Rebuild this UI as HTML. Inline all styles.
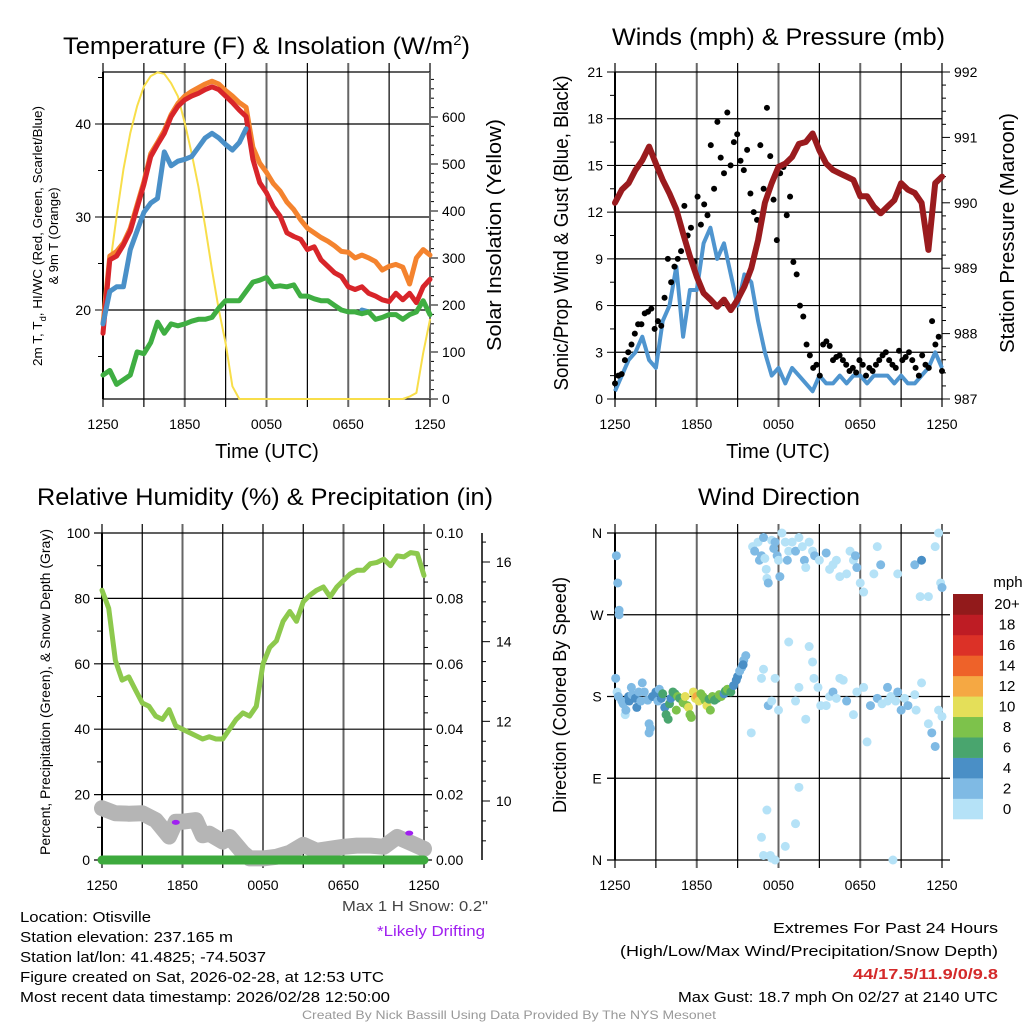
<!DOCTYPE html>
<html><head><meta charset="utf-8"><style>
html,body{margin:0;padding:0;background:#fff;}
svg{display:block;font-family:"Liberation Sans",sans-serif;}
</style></head><body>
<svg id="fig" width="1024" height="1024" viewBox="0 0 1024 1024" xmlns="http://www.w3.org/2000/svg">
<g font-size="24" fill="#000">
<text x="63" y="54" textLength="407" lengthAdjust="spacingAndGlyphs">Temperature (F) &amp; Insolation (W/m<tspan dy="-9" font-size="14">2</tspan><tspan dy="9">)</tspan></text>
<text x="612" y="45" textLength="333" lengthAdjust="spacingAndGlyphs">Winds (mph) &amp; Pressure (mb)</text>
<text x="37" y="505" textLength="456" lengthAdjust="spacingAndGlyphs">Relative Humidity (%) &amp; Precipitation (in)</text>
<text x="698" y="505" textLength="162" lengthAdjust="spacingAndGlyphs">Wind Direction</text>
</g>
<g id="layer"></g>
<g font-size="15" fill="#000">
<text x="20" y="922" textLength="131" lengthAdjust="spacingAndGlyphs">Location: Otisville</text>
<text x="20" y="942" textLength="213" lengthAdjust="spacingAndGlyphs">Station elevation: 237.165 m</text>
<text x="20" y="962" textLength="246" lengthAdjust="spacingAndGlyphs">Station lat/lon: 41.4825; -74.5037</text>
<text x="20" y="982" textLength="364" lengthAdjust="spacingAndGlyphs">Figure created on Sat, 2026-02-28, at 12:53 UTC</text>
<text x="20" y="1002" textLength="370" lengthAdjust="spacingAndGlyphs">Most recent data timestamp: 2026/02/28 12:50:00</text>
<text x="342" y="911" textLength="146" lengthAdjust="spacingAndGlyphs" fill="#444">Max 1 H Snow: 0.2"</text>
<text x="377" y="936" textLength="108" lengthAdjust="spacingAndGlyphs" fill="#a020f0">*Likely Drifting</text>
<text x="773" y="933" textLength="225" lengthAdjust="spacingAndGlyphs">Extremes For Past 24 Hours</text>
<text x="620" y="956" textLength="378" lengthAdjust="spacingAndGlyphs">(High/Low/Max Wind/Precipitation/Snow Depth)</text>
<text x="853" y="979" textLength="145" lengthAdjust="spacingAndGlyphs" fill="#d42a2a" font-weight="bold">44/17.5/11.9/0/9.8</text>
<text x="678" y="1002" textLength="320" lengthAdjust="spacingAndGlyphs">Max Gust: 18.7 mph On 02/27 at 2140 UTC</text>
<text x="302" y="1019" textLength="414" lengthAdjust="spacingAndGlyphs" font-size="12" fill="#999">Created By Nick Bassill Using Data Provided By The NYS Mesonet</text>
</g>
</svg>
<script>
// ---------- data (half-hour samples, t = 0..48 from 1250 UTC) ----------
const timeTicks = ["1250","1850","0050","0650","1250"];
const tempRed = [17.5,25.4,25.8,27.0,28.5,31.0,33.5,36.5,37.8,39.0,40.8,41.9,42.6,43.0,43.3,43.7,44.0,43.7,43.0,42.3,41.5,40.8,36.2,33.7,32.6,31.1,30.1,28.3,27.9,27.6,26.5,26.8,25.4,24.7,24.0,23.6,22.5,22.2,22.5,21.8,21.5,21.1,20.9,21.8,21.1,21.8,20.8,22.5,23.3];
const tempOrange = [18.5,25.8,26.3,27.2,28.8,31.3,33.8,36.8,38.0,39.3,41,42.2,43,43.5,43.9,44.3,44.6,44.3,43.6,43,42.3,41.8,37.5,35.8,34.8,33.6,32.8,31.6,30.8,29.7,28.8,28.3,27.8,27.4,26.9,26.3,26.2,25.6,25.9,25.6,25.2,24.3,24.7,24.9,24.6,22.8,25.6,26.5,25.9];
const tempBlue = [18.5,22,22.5,22.5,26.5,28.5,30.5,31.5,32.0,37.0,35.5,36,36.2,36.5,37.5,38.5,39,38.5,37.8,37.2,38,39.5,null,null,30,null,null,null,null,26.2,null,null,null,null,null,null,null,null,20,19.8,null,null,null,18,null,null,16,null,20];
const dewGreen = [13,13.5,12,12.5,13,15.5,15.3,16.5,18.7,17.5,18.5,18.3,18.5,18.8,19,19,19.2,20.2,21,21,21,22,23,23.2,23.5,22.5,22.6,22.5,22.7,21.5,21.5,21.2,21,21,20.5,20,19.8,19.8,19.6,19.8,19,19.2,19.5,19.5,19,19.5,19.8,21,19.5];
const solar = [169,282,389,488,566,623,665,687,695,692,672,644,587,523,452,367,275,190,119,27,0,0,0,0,0,0,0,0,0,0,0,0,0,0,0,0,0,0,0,0,0,0,0,0,0,5,13,98,169];
const pressure = [990.0,990.2,990.3,990.5,990.65,990.86,990.6,990.35,990.14,989.9,989.53,989.18,988.87,988.62,988.52,988.41,988.52,988.36,988.52,988.72,989.0,989.43,990.0,990.3,990.55,990.6,990.7,990.9,990.93,991.06,990.8,990.6,990.5,990.45,990.4,990.35,990.1,990.1,989.94,989.84,989.94,990.04,990.3,990.2,990.15,990.0,989.28,990.3,990.4];
const windSpd = [0.5,1.5,2.5,3,4,2.5,2,5,6,8.5,4,7,7,10,11,9,10,8,6,8,7.5,5,3,1.5,2,1,2,1.5,1,0.5,1.5,1,1,1.5,1,1.5,1.5,1,1.5,1.5,1.5,1,1.5,1,1,1.5,2,3,2];
const gusts = [1,1.5,1.6,2.5,3,3.5,4.2,4.8,4.8,5.5,5.6,5.8,4.5,5,4.7,6.5,9,7.5,8.5,9,9.5,12.4,10.5,11,8.8,13,11.2,12.5,11.8,16.3,13.5,17.8,15.5,14.5,18.4,15,16.5,17,15.3,14.7,16,13.2,12,11.5,16.3,13.5,18.7,15.6,12.8,10.2,14.5,14.9,11.8,13,8.8,8,6,5.3,3.5,2.8,2,2.2,1.5,3.5,3.7,3.4,2.5,2.7,2.8,2.5,2.2,1.8,2,1.7,2.5,2.2,1.5,2,1.8,2.2,2.5,2.8,3,2.5,2.2,2,3.1,2.5,2.7,3,2.5,2,1.5,2.8,2.2,2,5,3.5,4,1.8];
const rh = [82.5,77,61,55,56,52,48,47,44,43,46,41,40,39,38,37,37.7,37,37,40,43,45,44,47,60,65,67,73,76,73,79,81,82.5,83.5,80.5,83.5,85.5,87.5,88.6,88.6,90.6,91,92,90,93,92.7,94,93.7,87];
const snowT = [0,2,4,6,8,10,11,12,14,15,16,18,19,20,21,22,24,26,28,30,32,34,36,38,40,42,44,46,48];
const snowDepth = [9.82,9.69,9.68,9.69,9.52,9.11,9.48,9.48,9.52,9.14,9.18,8.98,9.1,8.9,8.7,8.56,8.56,8.6,8.7,8.9,8.75,8.8,8.85,8.88,8.88,8.85,9.1,8.95,8.8];
const driftT = [11,45.8];
const driftV = [11.5,8.2];
const precip = [0,0,0,0,0,0,0,0,0,0,0,0,0,0,0,0,0,0,0,0,0,0,0,0,0,0,0,0,0,0,0,0,0,0,0,0,0,0,0,0,0,0,0,0,0,0,0,0,0];
const wdT = [0.1,0.2,0.4,0.6,0.6,0.3,0.5,1,1.5,1.6,1.2,2,2.1,2.5,2.4,3,3.2,3.5,3.8,4,4.3,4.8,5,5.2,5.0,5.5,6,6.3,6.5,6.8,7,7.3,7.5,7.8,8,8.2,8.5,8.8,9,9.2,9.5,10,10.3,10.6,10.8,11,11.2,11.5,11.8,12,12.3,12.6,12.9,13.2,13.5,13.8,14,14.3,14.6,15,15.3,15.6,16,16.2,16.5,17,17.4,17.8,18,18.3,18.6,18.9,19.2,18.8,20.2,20.5,21,21.2,21.5,21.8,22,22.3,22.5,22.2,23,23.3,23.5,23.8,24,24.2,24.5,25,25.3,25.5,26,26.5,27,27.5,27.8,28,28.5,29,29.3,30,31,31.5,32,32.5,33,34,34.5,35,35.3,35.5,36,36.5,38,38.5,39,41.5,44,45,47.5,47.8,48,46,47,44.8,20,21.5,21.8,22.5,23,23.5,24,25.5,26.5,27,28.5,29,29.2,29.8,30.2,31,31.5,32,32.5,33,33.5,34,35,35.5,36.5,37,37.5,38.5,39.2,40,40.5,41.2,41.5,42,42.5,43,44,44.2,45,46,46.5,47,47.5,48,40,28,27,26.5,22.3,21.5,22.8,23,23.5,25,21.8,40.8];
const wdDir = [200,335,305,275,270,185,180,175,160,165,172,180,175,182,190,178,168,185,175,195,185,176,150,145,140,180,185,175,188,178,183,168,160,155,172,178,185,183,165,180,178,173,180,170,168,160,157,185,178,180,175,183,180,176,170,177,165,180,176,178,182,180,183,186,188,185,192,198,202,208,212,220,225,215,345,340,350,330,335,355,332,310,305,320,352,343,350,335,330,312,360,350,330,340,350,340,355,345,330,322,350,340,335,330,338,320,325,330,312,315,340,330,335,322,305,295,315,345,325,315,325,330,360,305,300,290,345,290,140,200,210,170,175,200,165,240,175,190,235,218,200,190,170,170,180,185,178,200,198,175,160,185,190,130,170,178,172,190,180,175,185,165,178,170,182,165,195,150,140,125,165,158,175,155,80,40,55,25,5,2,0,15,5,0];
const wdSpd = [2,2,2,3,2,1,2,2,1,2,3,4,4,2,3,4,4,3,2,3,2,2,2,2,2,4,4,2,3,5,6,5,6,7,6,5,6,7,8,8,7,9,10,8,10,9,8,10,10,12,10,9,8,8,10,6,8,8,6,7,9,8,4,6,8,6,4,4,4,3,2,2,2,4,1,2,1,2,2,3,1,1,3,1,1,3,2,2,1,3,1,1,3,1,1,2,1,1,2,1,1,1,2,1,3,1,1,1,1,1,1,1,3,3,1,1,1,1,3,1,2,4,1,1,3,1,1,1,1,1,1,2,1,1,1,1,1,1,1,1,1,1,1,1,1,3,1,1,1,3,1,1,1,1,3,3,1,2,1,1,3,3,1,2,1,1,1,1,2,2,1,1,1,1,1,1,1,1,1,1,1,1,1,1,1,1,1,1];
const cbLabels = ["0","2","4","6","8","10","12","14","16","18","20+"];
const cbColors = ["#b5e2f7","#7fbae4","#4a8fc6","#49a56e","#7dc24b","#e4df59","#f5a843","#ee6229","#dc3127","#be1c24","#921a1b"];

// ---------- helpers ----------
const NS="http://www.w3.org/2000/svg";
const layer=document.getElementById('layer');
function mk(tag,attrs,parent){const e=document.createElementNS(NS,tag);for(const k in attrs)e.setAttribute(k,attrs[k]);(parent||layer).appendChild(e);return e;}
function lin(d0,d1,p0,p1){return v=>p0+(v-d0)*(p1-p0)/(d1-d0);}
function pathFrom(xs,ys,xf,yf){let d="",pen=false;for(let i=0;i<ys.length;i++){if(ys[i]===null){pen=false;continue;}const x=xf(xs[i]).toFixed(1),y=yf(ys[i]).toFixed(1);d+=(pen?"L":"M")+x+" "+y+" ";pen=true;}return d;}
const idx=n=>Array.from({length:n},(_,i)=>i*48/(n-1));

function frame(g,x0,x1,y0,y1){
  for(let i=0;i<=8;i++){const x=x0+i*(x1-x0)/8;const l=mk('line',{x1:x,x2:x,y1:y0-9,y2:y1+8,stroke:(i%2==0)?'#666':'#000','stroke-width':(i%2==0)?2:1.2},g);
    
    }
}
function timeLabels(g,x0,x1,y){for(let i=0;i<5;i++){const t=mk('text',{x:x0+i*(x1-x0)/4,y:y,'font-size':14,'text-anchor':'middle'},g);t.textContent=timeTicks[i];
  
  }}
function hgrid(g,x0,x1,y,ext){const l=mk('line',{x1:x0-ext,x2:x1+ext,y1:y,y2:y,stroke:'#000','stroke-width':1.2},g);
  
  }
function tickTxt(g,x,y,s,anchor,fs){const t=mk('text',{x:x,y:y+5,'font-size':fs||14,'text-anchor':anchor},g);t.textContent=s;
  
  return t;}
function rotTxt(g,x,y,s,fs,ang,len){const a={x:0,y:0,'font-size':fs,'text-anchor':'middle',transform:`translate(${x},${y}) rotate(${ang})`};if(len){a.textLength=len;a.lengthAdjust='spacingAndGlyphs';}const t=mk('text',a,g);t.textContent=s;
  
  return t;}

// ---------- Panel 1: temperature ----------
{
const g=mk('g',{});
const X0=103,X1=430,Y0=72,Y1=399;
const xs=lin(0,48,X0,X1), yT=lin(20,40,310,124), yS=lin(0,600,399,117);
frame(g,X0,X1,Y0,Y1);
[20,30,40].forEach(v=>{hgrid(g,X0,X1,yT(v),0);mk('line',{x1:X0-8,x2:X0,y1:yT(v),y2:yT(v),stroke:'#000'},g);tickTxt(g,X0-12,yT(v),String(v),'end');});
[15,25,35,45].forEach(v=>mk('line',{x1:X0-5,x2:X0,y1:yT(v),y2:yT(v),stroke:'#000'},g));
hgrid(g,X0,X1,Y0,0);hgrid(g,X0,X1,Y1,0);
for(let v=0;v<=690;v+=20){const big=v%100==0;mk('line',{x1:X1,x2:X1+(big?8:4),y1:yS(v),y2:yS(v),stroke:'#000'},g);if(big)tickTxt(g,X1+12,yS(v),String(v),'start');}
mk('line',{x1:X0,x2:X0,y1:Y0,y2:Y1,stroke:'#000','stroke-width':2},g);
mk('line',{x1:X1,x2:X1,y1:Y0,y2:Y1,stroke:'#666','stroke-width':2},g);
const t=idx(49);
const s=[[solar,yS,'#f8de4a',2,'solar-insolation-line'],[tempOrange,yT,'#f4832e',5,'9m-temperature-line'],[tempRed,yT,'#d8252a',5,'2m-temperature-line'],[tempBlue,yT,'#4a90c8',5,'heat-index-windchill-line'],[dewGreen,yT,'#3fae42',5,'dewpoint-line']];
s.forEach(([d,yf,c,w,n])=>{const p=mk('path',{d:pathFrom(t,d,xs,yf),fill:'none',stroke:c,'stroke-width':w,'stroke-linejoin':'round','stroke-linecap':'round'},g);
  
  });
timeLabels(g,X0,X1,429);
const tt=mk('text',{x:267,y:458,'font-size':20,'text-anchor':'middle'},g);tt.textContent='Time (UTC)';


rotTxt(g,42,236,'2m T',13,-90,260).textContent='2m T, T';
const lab=g.lastChild;const sub=mk('tspan',{'font-size':9,dy:4},lab);sub.textContent='d';const rest=mk('tspan',{dy:-4},lab);rest.textContent=', HI/WC (Red, Green, Scarlet/Blue)';
rotTxt(g,58,236,'& 9m T (Orange)',13,-90);
rotTxt(g,501,235,'Solar Insolation (Yellow)',20,-90,232);
}

// ---------- Panel 2: winds ----------
{
const g=mk('g',{});
const X0=615,X1=942,Y0=72,Y1=399;
const xs=lin(0,48,X0,X1), yW=lin(0,21,Y1,Y0), yP=lin(987,992,Y1,Y0);
frame(g,X0,X1,Y0,Y1);
for(let v=0;v<=21;v+=3){hgrid(g,X0,X1,yW(v),0);mk('line',{x1:X0-8,x2:X0,y1:yW(v),y2:yW(v),stroke:'#000'},g);tickTxt(g,X0-12,yW(v),String(v),'end');}
for(let v=1.5;v<21;v+=3)mk('line',{x1:X0-5,x2:X0,y1:yW(v),y2:yW(v),stroke:'#000'},g);
for(let v=987;v<=992.01;v+=0.2){const big=Math.abs(v-Math.round(v))<0.01;mk('line',{x1:X1,x2:X1+(big?8:4),y1:yP(v),y2:yP(v),stroke:'#000'},g);if(big)tickTxt(g,X1+12,yP(v),String(Math.round(v)),'start');}
mk('line',{x1:X0,x2:X0,y1:Y0,y2:Y1,stroke:'#000','stroke-width':2},g);
const t=idx(49);
let p=mk('path',{d:pathFrom(t,windSpd,xs,yW),fill:'none',stroke:'#4f95cf','stroke-width':4,'stroke-linejoin':'round'},g);


const tg=idx(gusts.length);
gusts.forEach((v,i)=>{const c=mk('circle',{cx:xs(tg[i]),cy:yW(v),r:3,fill:'#000'},g);
  
  });
p=mk('path',{d:pathFrom(t,pressure,xs,yP),fill:'none',stroke:'#9a1b1e','stroke-width':6,'stroke-linejoin':'round','stroke-linecap':'round'},g);


timeLabels(g,X0,X1,429);
const tt=mk('text',{x:778,y:458,'font-size':20,'text-anchor':'middle'},g);tt.textContent='Time (UTC)';


rotTxt(g,568,233,'Sonic/Prop Wind & Gust (Blue, Black)',20,-90,315);
rotTxt(g,1014,233,'Station Pressure (Maroon)',20,-90,240);
}

// ---------- Panel 3: humidity ----------
{
const g=mk('g',{});
const X0=102,X1=424,Y0=533,Y1=860;
const xs=lin(0,48,X0,X1), yR=lin(0,100,Y1,Y0), yPr=lin(0,0.1,Y1,Y0), yS=lin(10,16,801,562);
frame(g,X0,X1,Y0,Y1);
for(let v=0;v<=100;v+=20){hgrid(g,X0,X1,yR(v),8);tickTxt(g,X0-12,yR(v),String(v),'end');}
for(let v=10;v<100;v+=20)mk('line',{x1:X0-5,x2:X0,y1:yR(v),y2:yR(v),stroke:'#000'},g);
for(let v=0;v<=0.1001;v+=0.005){const big=Math.round(v*1000)%20==0;mk('line',{x1:X1,x2:X1+(big?8:4),y1:yPr(v),y2:yPr(v),stroke:'#000'},g);if(big)tickTxt(g,X1+12,yPr(v),v.toFixed(2),'start');}
mk('line',{x1:482,x2:482,y1:Y0,y2:Y1,stroke:'#000','stroke-width':1.5},g);
for(let v=9;v<=16.5;v+=0.5){const big=Math.abs(v-Math.round(v))<0.01&&Math.round(v)%2==0;mk('line',{x1:482,x2:482+(big?8:4),y1:yS(v),y2:yS(v),stroke:'#000'},g);if(big)tickTxt(g,496,yS(v),String(Math.round(v)),'start');}
mk('line',{x1:X0,x2:X0,y1:Y0,y2:Y1,stroke:'#000','stroke-width':2},g);
let p=mk('path',{d:pathFrom(snowT,snowDepth,xs,yS),fill:'none',stroke:'#b5b5b5','stroke-width':16,'stroke-linejoin':'round','stroke-linecap':'round'},g);


driftT.forEach((v,i)=>{const e=mk('ellipse',{cx:xs(v),cy:yR(driftV[i]),rx:4,ry:2.5,fill:'#a020f0'},g);
  
  });
const t=idx(49);
p=mk('path',{d:pathFrom(t,precip,xs,yPr),fill:'none',stroke:'#3daa3d','stroke-width':9,'stroke-linecap':'round'},g);


p=mk('path',{d:pathFrom(t,rh,xs,yR),fill:'none',stroke:'#8dc94d','stroke-width':5,'stroke-linejoin':'round','stroke-linecap':'round'},g);


timeLabels(g,X0,X1,890);
rotTxt(g,50,692,'Percent, Precipitation (Green), & Snow Depth (Gray)',14,-90,326);
}

// ---------- Panel 4: wind direction ----------
{
const g=mk('g',{});
const X0=615,X1=942,Y0=533,Y1=860;
const xs=lin(0,48,X0,X1), yD=lin(0,360,Y1,Y0);
frame(g,X0,X1,Y0,Y1);
["N","E","S","W","N"].forEach((s,i)=>{const y=yD(i*90);hgrid(g,X0,X1,y,8);mk('line',{x1:X0-8,x2:X0,y1:y,y2:y,stroke:'#000'},g);tickTxt(g,597,y,s,'middle');});
mk('line',{x1:X0,x2:X0,y1:Y0,y2:Y1,stroke:'#000','stroke-width':2},g);
wdT.forEach((tv,i)=>{const sp=(wdSpd[i]===undefined)?1:wdSpd[i];const b=Math.min(10,Math.floor(sp/2));const c=mk('circle',{cx:xs(tv),cy:yD(wdDir[i]),r:4.5,fill:cbColors[b]},g);
  
  });
timeLabels(g,X0,X1,890);
rotTxt(g,566,695,'Direction (Colored By Speed)',18,-90,236);
const cb=mk('g',{},g);
const h=225/11;
cbColors.forEach((c,i)=>{const y=819-(i+1)*h;const r=mk('rect',{x:953,y:y,width:30,height:h+0.3,fill:c},cb);
  
  
  tickTxt(cb,1007,y+h/2,cbLabels[i],'middle',15);});
const m=mk('text',{x:1008,y:587,'font-size':15,'text-anchor':'middle'},cb);m.textContent='mph';


}
</script>
</body></html>
